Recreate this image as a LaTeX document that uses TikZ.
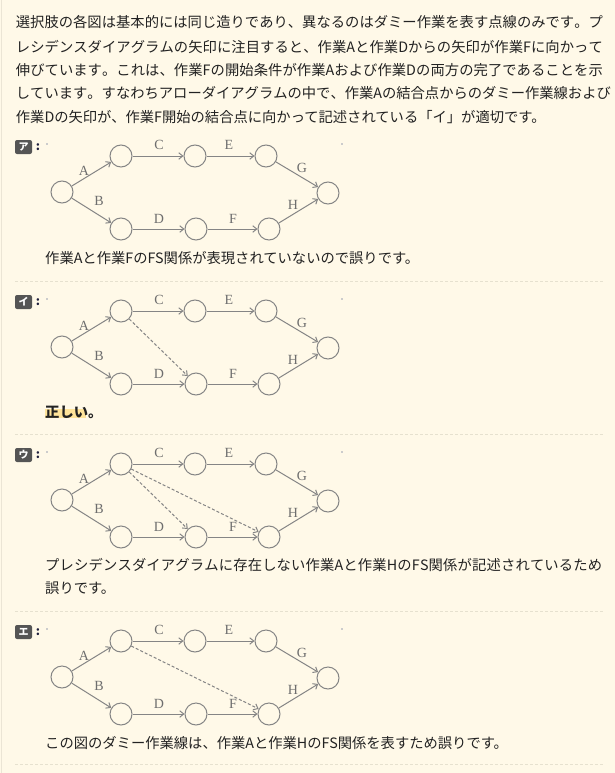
\documentclass[tikz,border=0pt]{standalone}
\usepackage{fontspec}
\setmainfont{Noto Sans CJK JP}
\newfontfamily\serifletters{Liberation Serif}
\usetikzlibrary{arrows.meta}
\definecolor{bgcol}{HTML}{FFF9E8}
\definecolor{edgecol}{HTML}{858585}
\definecolor{lettercol}{HTML}{6E6E6E}
\definecolor{tagcol}{HTML}{555555}
\definecolor{sepcol}{HTML}{E6E1CF}
\definecolor{markcol}{HTML}{FFE49A}
\definecolor{txtcol}{HTML}{222222}
\definecolor{coloncol}{HTML}{1E1E3C}
\makeatletter
\def\spreadline#1{\spread@aux#1\relax}
\def\spread@aux#1{\ifx#1\relax\else#1\hskip0pt plus 1fil\expandafter\spread@aux\fi}
\makeatother
\newcommand\justline[2]{\hbox to #1{\spreadline{#2}\unskip}}
\tikzset{
  ev/.style={circle, draw=edgecol, line width=1pt, minimum size=22pt, inner sep=0pt},
  act/.style={draw=edgecol, line width=1pt, -{Straight Barb[length=4pt,width=6.5pt]}},
  dum/.style={act, dash pattern=on 3pt off 2pt},
  lt/.style={font=\serifletters\fontsize{14}{14}\selectfont, text=lettercol, inner sep=0pt},
  para/.style={anchor=west, inner sep=0pt, font=\fontsize{14.3}{14.3}\selectfont, text=txtcol},
  tagbox/.style={fill=tagcol, rounded corners=2pt, text=white, font=\bfseries\fontsize{10}{10}\selectfont, minimum width=17pt, minimum height=14pt, inner sep=0pt},
  colonmark/.style={text=coloncol, font=\bfseries\fontsize{12}{12}\selectfont, inner sep=0pt},
  tinymark/.style={fill=black!20, minimum size=1.5pt, inner sep=0pt},
  sepline/.style={draw=sepcol, dash pattern=on 3pt off 2pt, line width=0.8pt},
}
\newcommand\netdiag[4]{% #1 prefix, #2 top y, #3 tag, #4 dummy edges
  \begin{scope}[shift={(0,#2)}, name prefix=#1]
    \node[tagbox] (tag) at (23.5,-9) {#3};
    \node[colonmark] (colon) at (38,-9) {:};
    \node[tinymark] (m1) at (47,-12) {};
    \node[tinymark] (m2) at (342,-12) {};
    \node[ev] (L) at (62,36) {};
    \node[ev] (T1) at (121,0) {};
    \node[ev] (T2) at (195,0) {};
    \node[ev] (T3) at (266,0) {};
    \node[ev] (R) at (328,37) {};
    \node[ev] (B1) at (121,73) {};
    \node[ev] (B2) at (196,73) {};
    \node[ev] (B3) at (269,73) {};
    \draw[act] (L) -- (T1);
    \draw[act] (L) -- (B1);
    \draw[act] (T1) -- (T2);
    \draw[act] (T2) -- (T3);
    \draw[act] (T3) -- (R);
    \draw[act] (B1) -- (B2);
    \draw[act] (B2) -- (B3);
    \draw[act] (B3) -- (R);
    \node[lt] (lA) at (84,15) {A};
    \node[lt] (lB) at (99,45) {B};
    \node[lt] (lC) at (159,-11) {C};
    \node[lt] (lE) at (229,-11) {E};
    \node[lt] (lG) at (302,12) {G};
    \node[lt] (lH) at (293,49) {H};
    \node[lt] (lD) at (159,63) {D};
    \node[lt] (lF) at (233,63) {F};
    #4
  \end{scope}}
\begin{document}
\begin{tikzpicture}[x=1pt,y=-1pt]
\fill[bgcol] (0,0) rectangle (615,773);
\useasboundingbox (0,0) rectangle (615,773);
\draw[draw=bgcol!92!black, line width=1pt] (1,0) -- (1,773);

\node[para] (p1) at (15.7,22) {\justline{587pt}{選択肢の各図は基本的には同じ造りであり、異なるのはダミー作業を表す点線のみです。プ}};
\node[para] (p2) at (15.7,46.5) {\justline{587pt}{レシデンスダイアグラムの矢印に注目すると、作業Aと作業Dからの矢印が作業Fに向かって}};
\node[para] (p3) at (15.7,70) {\justline{587pt}{伸びています。これは、作業Fの開始条件が作業Aおよび作業Dの両方の完了であることを示}};
\node[para] (p4) at (15.7,93.5) {\justline{587pt}{しています。すなわちアローダイアグラムの中で、作業Aの結合点からのダミー作業線および}};
\node[para] (p5) at (15.7,117) {作業Dの矢印が、作業F開始の結合点に向かって記述されている「イ」が適切です。};

% ア
\netdiag{a-}{156}{ア}{}
\node[para] (ca) at (45,258) {作業Aと作業FのFS関係が表現されていないので誤りです。};
\coordinate (s1a) at (15,281.5);
\coordinate (s1b) at (603,281.5);
\draw[sepline] (s1a) -- (s1b);

% イ
\netdiag{b-}{311}{イ}{\draw[dum] (T1) -- (B2);}
\fill[markcol] (45,409) rectangle (85.5,418);
\node[para, font=\bfseries\fontsize{14.3}{14.3}\selectfont] (cb) at (45,412.5) {正しい。};
\coordinate (s2a) at (15,434.5);
\coordinate (s2b) at (603,434.5);
\draw[sepline] (s2a) -- (s2b);

% ウ
\netdiag{c-}{464}{ウ}{\draw[dum] (T1) -- (B2); \draw[dum] (T1) -- (B3);}
\node[para] (cc1) at (45,565) {\justline{557pt}{プレシデンスダイアグラムに存在しない作業Aと作業HのFS関係が記述されているため}};
\node[para] (cc2) at (45,588) {誤りです。};
\coordinate (s3a) at (15,611.5);
\coordinate (s3b) at (603,611.5);
\draw[sepline] (s3a) -- (s3b);

% エ
\netdiag{d-}{641}{エ}{\draw[dum] (T1) -- (B3);}
\node[para] (cd) at (45,743) {この図のダミー作業線は、作業Aと作業HのFS関係を表すため誤りです。};
\coordinate (s4a) at (15,764.5);
\coordinate (s4b) at (603,764.5);
\draw[sepline] (s4a) -- (s4b);
\end{tikzpicture}
\end{document}
